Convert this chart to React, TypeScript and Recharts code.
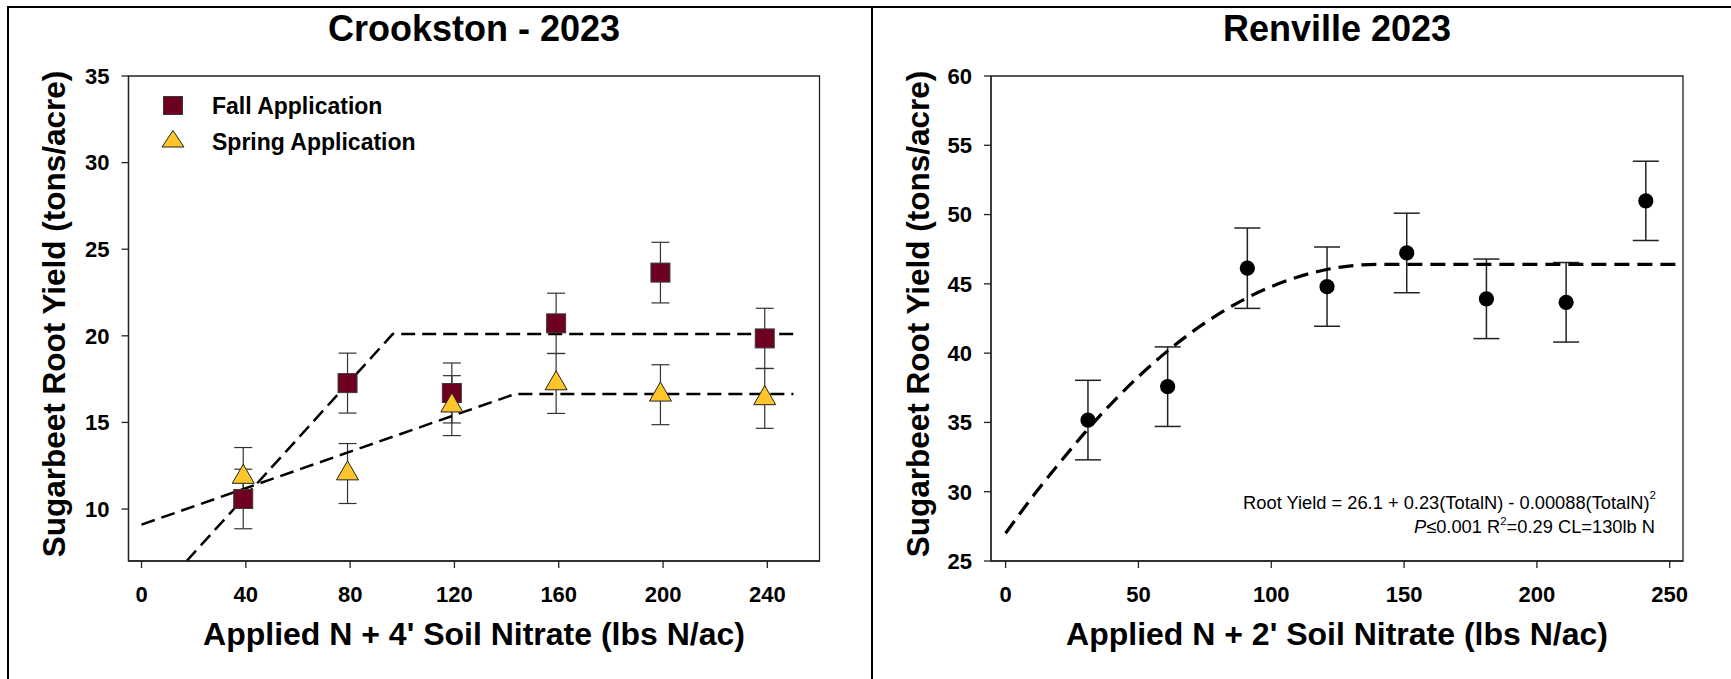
import React from 'react';
import {
  ComposedChart,
  Scatter,
  Line,
  XAxis,
  YAxis,
  ErrorBar,
  ReferenceArea,
  Legend
} from 'recharts';

const FONT = '"Liberation Sans", Arial, Helvetica, sans-serif';

// ---- Crookston 2023 (4' soil nitrate) ----
const FALL_NAME = 'Fall Application';
const SPRING_NAME = 'Spring Application';
const crookstonN = [39, 79, 119, 159, 199, 239];
const fallYield = [10.58, 17.27, 16.7, 20.72, 23.65, 19.85];
const fallSE = [1.72, 1.73, 1.73, 1.74, 1.75, 1.74];
const springYield = [11.85, 12.05, 15.97, 17.25, 16.6, 16.39];
const springSE = [1.7, 1.73, 1.73, 1.73, 1.73, 1.73];
// linear-plateau fits
const fallFitN = [17.3, 96.3, 250];
const fallFitYield = [7, 20.1, 20.1];
const springFitN = [0, 143.2, 250];
const springFitYield = [9.1, 16.64, 16.64];
const crookstonXTicks = [0, 40, 80, 120, 160, 200, 240];
const crookstonYTicks = [10, 15, 20, 25, 30, 35];

// ---- Renville 2023 (2' soil nitrate) ----
const renvilleN = [31, 61, 91, 121, 151, 181, 211, 241];
const renvilleYield = [35.17, 37.58, 46.13, 44.8, 47.23, 43.92, 43.67, 50.99];
const renvilleSE = [2.87, 2.87, 2.9, 2.86, 2.87, 2.87, 2.87, 2.86];
// quadratic-plateau fit
const renvilleFitN = [0, 10, 20, 30, 40, 50, 60, 70, 80, 90, 100, 110, 120, 130, 140, 255];
const renvilleFitYield = [27.0, 29.6, 32.0, 34.3, 36.4, 38.3, 40.0, 41.5, 42.8, 43.9, 44.8, 45.5, 46.0, 46.3, 46.4, 46.4];
const renvilleXTicks = [0, 50, 100, 150, 200, 250];
const renvilleYTicks = [25, 30, 35, 40, 45, 50, 55, 60];

const FALL_COLOR = '#6e0020';
const SPRING_COLOR = '#ffc62c';

const toPoints = (xs: number[], ys: number[], es?: number[]) =>
  xs.map((x, i) => ({ x, y: ys[i], err: es ? es[i] : 0 }));

const fallData = toPoints(crookstonN, fallYield, fallSE);
const springData = toPoints(crookstonN, springYield, springSE);
const fallFit = toPoints(fallFitN, fallFitYield);
const springFit = toPoints(springFitN, springFitYield);
const renvilleData = toPoints(renvilleN, renvilleYield, renvilleSE);
const renvilleFit = toPoints(renvilleFitN, renvilleFitYield);

const tickStyle = { fill: '#000', fontSize: 22, fontWeight: 700, fontFamily: FONT };
const axisStyle = { stroke: '#222', strokeWidth: 1.3 };

const SquareMark = (props: any) => {
  const { cx, cy } = props;
  return <rect x={cx - 9.5} y={cy - 9.5} width={19} height={19} fill={FALL_COLOR} stroke="#3a3a3a" strokeWidth={1} />;
};

const TriangleMark = (props: any) => {
  const { cx, cy } = props;
  const w = 11;
  const h = 19;
  return (
    <polygon
      points={`${cx},${cy - (2 * h) / 3} ${cx - w},${cy + h / 3} ${cx + w},${cy + h / 3}`}
      fill={SPRING_COLOR}
      stroke="#222"
      strokeWidth={1}
    />
  );
};

const DotMark = (props: any) => {
  const { cx, cy } = props;
  return <circle cx={cx} cy={cy} r={7.6} fill="#000" />;
};

const CrookstonLegend = (props: any) => {
  const items = (props.payload || []).filter((p: any) => p.value === FALL_NAME || p.value === SPRING_NAME);
  return (
    <div style={{ fontFamily: FONT, fontWeight: 700, fontSize: 23, color: '#000' }}>
      {items.map((p: any) => (
        <div key={p.value} style={{ display: 'flex', alignItems: 'center', height: 36 }}>
          <svg width={26} height={26} style={{ display: 'block' }}>
            {p.value === FALL_NAME ? (
              <rect x={3.5} y={3.5} width={19} height={18} fill={FALL_COLOR} stroke="#3a3a3a" strokeWidth={1} />
            ) : (
              <polygon points="13,1.5 2,18 24,18" fill={SPRING_COLOR} stroke="#222" strokeWidth={1} />
            )}
          </svg>
          <span style={{ marginLeft: 26, whiteSpace: 'nowrap' }}>{p.value}</span>
        </div>
      ))}
    </div>
  );
};

export default function App() {
  return (
    <div style={{ position: 'absolute', left: 0, top: 0, width: 1731, height: 679, background: '#fff', overflow: 'hidden' }}>
      {/* Crookston panel */}
      <div style={{ position: 'absolute', left: 0, top: 0 }}>
        <ComposedChart width={870} height={679} margin={{ top: 76, right: 50.5, bottom: 78, left: 68.5 }}>
          <XAxis
            type="number"
            dataKey="x"
            domain={[-5, 260]}
            ticks={crookstonXTicks}
            allowDataOverflow
            height={40}
            tickSize={7}
            tickMargin={18}
            tick={tickStyle}
            axisLine={axisStyle}
            tickLine={axisStyle}
          />
          <YAxis
            type="number"
            dataKey="y"
            domain={[7, 35]}
            ticks={crookstonYTicks}
            allowDataOverflow
            width={60}
            tickSize={7}
            tickMargin={12}
            tick={tickStyle}
            axisLine={axisStyle}
            tickLine={axisStyle}
          />
          <ReferenceArea x1={-5} x2={260} y1={7} y2={35} fill="none" stroke="#222" strokeWidth={1.3} />
          <Legend
            layout="vertical"
            align="center"
            verticalAlign="middle"
            content={CrookstonLegend}
            wrapperStyle={{ left: 160, top: 88, width: 320, height: 72 }}
          />
          <Scatter name={FALL_NAME} data={fallData} dataKey="y" shape={SquareMark} isAnimationActive={false}>
            <ErrorBar dataKey="err" direction="y" width={9} stroke="#333" strokeWidth={1.2} />
          </Scatter>
          <Scatter name={SPRING_NAME} data={springData} dataKey="y" shape={TriangleMark} isAnimationActive={false}>
            <ErrorBar dataKey="err" direction="y" width={9} stroke="#333" strokeWidth={1.2} />
          </Scatter>
          <Line
            data={fallFit}
            dataKey="y"
            type="linear"
            stroke="#000"
            strokeWidth={2.5}
            strokeDasharray="14 7"
            dot={false}
            activeDot={false}
            legendType="none"
            isAnimationActive={false}
          />
          <Line
            data={springFit}
            dataKey="y"
            type="linear"
            stroke="#000"
            strokeWidth={2.5}
            strokeDasharray="14 7"
            dot={false}
            activeDot={false}
            legendType="none"
            isAnimationActive={false}
          />
        </ComposedChart>
      </div>

      {/* Renville panel */}
      <div style={{ position: 'absolute', left: 864, top: 0 }}>
        <ComposedChart width={867} height={679} margin={{ top: 76, right: 48, bottom: 78, left: 67 }}>
          <XAxis
            type="number"
            dataKey="x"
            domain={[-5.5, 255]}
            ticks={renvilleXTicks}
            allowDataOverflow
            height={40}
            tickSize={7}
            tickMargin={18}
            tick={tickStyle}
            axisLine={axisStyle}
            tickLine={axisStyle}
          />
          <YAxis
            type="number"
            dataKey="y"
            domain={[25, 60]}
            ticks={renvilleYTicks}
            allowDataOverflow
            width={60}
            tickSize={7}
            tickMargin={12}
            tick={tickStyle}
            axisLine={axisStyle}
            tickLine={axisStyle}
          />
          <ReferenceArea x1={-5.5} x2={255} y1={25} y2={60} fill="none" stroke="#222" strokeWidth={1.3} />
          <Scatter name="Renville" data={renvilleData} dataKey="y" shape={DotMark} isAnimationActive={false}>
            <ErrorBar dataKey="err" direction="y" width={13} stroke="#222" strokeWidth={1.5} />
          </Scatter>
          <Line
            data={renvilleFit}
            dataKey="y"
            type="monotone"
            stroke="#000"
            strokeWidth={3.2}
            strokeDasharray="15 8"
            dot={false}
            activeDot={false}
            legendType="none"
            isAnimationActive={false}
          />
        </ComposedChart>
      </div>

      {/* panel frames, titles and axis titles */}
      <svg
        width={1731}
        height={679}
        style={{ position: 'absolute', left: 0, top: 0, pointerEvents: 'none' }}
        fontFamily={FONT}
      >
        <line x1={7} y1={7} x2={1731} y2={7} stroke="#000" strokeWidth={2} />
        <line x1={8} y1={6} x2={8} y2={679} stroke="#000" strokeWidth={2} />
        <line x1={872} y1={6} x2={872} y2={679} stroke="#000" strokeWidth={2} />

        <text x={474} y={41} textAnchor="middle" fontSize={36} fontWeight={700}>Crookston - 2023</text>
        <text x={1337} y={41} textAnchor="middle" fontSize={36} fontWeight={700}>Renville 2023</text>

        <text x={474} y={645} textAnchor="middle" fontSize={32} fontWeight={700}>
          Applied N + 4' Soil Nitrate (lbs N/ac)
        </text>
        <text x={1337} y={645} textAnchor="middle" fontSize={32} fontWeight={700}>
          Applied N + 2' Soil Nitrate (lbs N/ac)
        </text>

        <text transform="translate(65,314) rotate(-90)" textAnchor="middle" fontSize={31.5} fontWeight={700}>
          Sugarbeet Root Yield (tons/acre)
        </text>
        <text transform="translate(929,314) rotate(-90)" textAnchor="middle" fontSize={31.5} fontWeight={700}>
          Sugarbeet Root Yield (tons/acre)
        </text>

        {/* regression annotation */}
        <text x={1656} y={509.3} textAnchor="end" fontSize={18.3}>
          <tspan>Root Yield = 26.1 + 0.23(TotalN) - 0.00088(TotalN)</tspan>
          <tspan fontSize={11.5} dy={-10}>2</tspan>
        </text>
        <text x={1655} y={532.7} textAnchor="end" fontSize={18.3}>
          <tspan fontStyle="italic">P</tspan>
          <tspan>≤0.001 R</tspan>
          <tspan fontSize={11.5} dy={-8}>2</tspan>
          <tspan dy={8}>=0.29 CL=130lb N</tspan>
        </text>
      </svg>
    </div>
  );
}
